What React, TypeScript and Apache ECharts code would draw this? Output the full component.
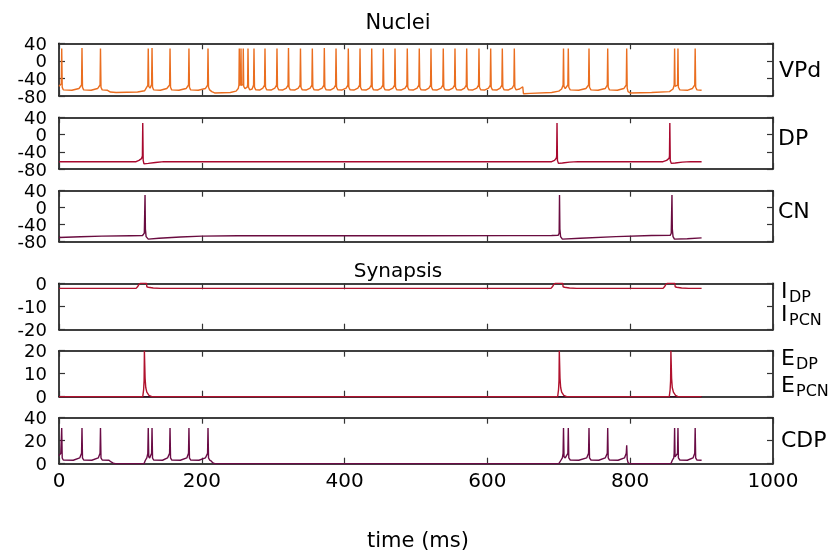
import React, { useEffect, useRef } from 'react';
import * as echarts from 'echarts';

// ---- data ----
const xTickLabels = ['0', '200', '400', '600', '800', '1000'];
const nucleiTickValues = [40, 0, -40, -80];

const vpd: number[][] = [
  [0, -58], [3.2, -52], [3.8, 28], [4.5, -60], [6, -66], [18, -67], [28, -63], [31.6, -55], [32.2, 29], [32.9, -60], [34.5, -66],
  [45, -67], [54, -63], [57.5, -55], [58.1, 28], [58.8, -60], [60.5, -66], [68, -67], [72, -71], [80, -72], [110, -71], [120, -68],
  [124.4, -56], [125, 28], [125.7, -58], [127.5, -62], [129.7, -54], [130.3, 29], [131, -60], [132.5, -66], [142, -67], [151, -63],
  [154.9, -55], [155.5, 28], [156.2, -60], [157.8, -66], [168, -67], [178, -63], [181.4, -55], [182, 28], [182.7, -60], [184.3, -66],
  [195, -67], [205, -63], [208.1, -55], [208.7, 28], [209.4, -60], [211, -66], [214, -70], [218, -73], [240, -72], [248, -69],
  [251, -63], [252, -55], [252.5, 28], [253, -56], [254.4, -54], [254.9, 28], [255.4, -56], [257.6, -54], [258.1, 28], [258.7, -58],
  [260.5, -63], [263.5, -60], [264.2, -55], [264.7, 28], [265.4, -60], [267.2, -66], [270.5, -64], [272.5, -55], [273.1, 28],
  [273.8, -60], [275.6, -66], [281, -66.5], [285.5, -62],
  [287.9, -55], [288.5, 28], [289.2, -60], [291, -66], [297, -66.5], [302.3, -62],
  [304.7, -55], [305.3, 28], [306, -60], [307.8, -66], [313, -66.5], [318.4, -62],
  [320.8, -55], [321.4, 29], [322.1, -60], [323.9, -66], [330, -66.5], [335.2, -62],
  [337.6, -55], [338.2, 28], [338.9, -60], [340.7, -66], [346, -66.5], [351.8, -62],
  [354.2, -55], [354.8, 28], [355.5, -60], [357.3, -66], [363, -66.5], [368.6, -62],
  [371, -55], [371.6, 29], [372.3, -60], [374.1, -66], [380, -66.5], [385, -62],
  [387.4, -55], [388, 28], [388.7, -60], [390.5, -66], [396, -66.5], [402.2, -62],
  [404.6, -55], [405.2, 28], [405.9, -60], [407.7, -66], [413, -66.5], [418.6, -62],
  [421, -55], [421.6, 28], [422.3, -60], [424.1, -66], [430, -66.5], [435, -62],
  [437.4, -55], [438, 28], [438.7, -60], [440.5, -66], [446, -66.5], [451.2, -62],
  [453.6, -55], [454.2, 28], [454.9, -60], [456.7, -66], [462, -66.5], [467.6, -62],
  [470, -55], [470.6, 28], [471.3, -60], [473.1, -66], [479, -66.5], [484.8, -62],
  [487.2, -55], [487.8, 28], [488.5, -60], [490.3, -66], [496, -66.5], [501.6, -62],
  [504, -55], [504.6, 28], [505.3, -60], [507.1, -66], [513, -66.5], [518, -62],
  [520.4, -55], [521, 28], [521.7, -60], [523.5, -66], [529, -66.5], [535.2, -62],
  [537.6, -55], [538.2, 28], [538.9, -60], [540.7, -66], [546, -66.5], [551.6, -62],
  [554, -55], [554.6, 28], [555.3, -60], [557.1, -66], [563, -66.5], [568, -62],
  [570.4, -55], [571, 28], [571.7, -60], [573.5, -66], [579, -66.5], [585.2, -62],
  [587.6, -55], [588.2, 28], [588.9, -60], [590.7, -66], [596, -66.5], [601.6, -62],
  [604, -55], [604.6, 28], [605.3, -60], [607.1, -66], [613, -66.5], [617.9, -62],
  [620.3, -55], [620.9, 28], [621.6, -60], [623.4, -66], [629, -66.5], [634.7, -62],
  [637.1, -55], [637.7, 28], [638.4, -60], [640.2, -66], [645, -64], [649.5, -59], [650.5, -75], [660, -74], [690, -72],
  [700, -69], [704, -64], [706, -55], [706.6, 28], [707.2, -58], [709, -63], [712.7, -55], [713.3, 28], [714, -60], [716, -66],
  [728, -67], [738, -63], [741.7, -55], [742.3, 28], [743, -60], [745, -66], [755, -67], [765, -63], [767.9, -55], [768.5, 28],
  [769.2, -60], [771, -66], [782, -67], [791, -63], [794.5, -55], [795.1, 28], [795.8, -62], [797, -70], [800, -73], [830, -72],
  [855, -70], [860, -64], [861.6, -55], [862.2, 28], [862.8, -58], [866.3, -55], [866.9, 28], [867.5, -60], [869.5, -66],
  [880, -67], [887, -63], [890.4, -55], [891, 28], [891.7, -60], [893.5, -66], [900, -67],
];

const dp: number[][] = [
  [0, -63], [108, -63], [112, -60], [115.5, -56], [116.8, -50], [117.3, 27], [117.9, -60], [119, -68], [125, -67], [135, -65],
  [147, -63], [690, -63], [694, -60], [696.5, -55], [697, -50], [697.5, 27], [698.1, -60], [699.5, -67], [705, -66], [715, -64],
  [727, -63], [846, -63], [851, -60], [854.5, -55], [855, -50], [855.5, 27], [856.1, -60], [857.5, -67], [863, -66], [873, -64],
  [885, -63], [900, -63],
];

const cn: number[][] = [
  [0, -70], [30, -68.5], [60, -67], [100, -66], [117, -65.5], [119.5, -60], [120.5, 30], [121, -50], [122, -68], [125, -74],
  [140, -72], [170, -69], [200, -67], [250, -66], [350, -66], [500, -66], [690, -65.5], [699, -65], [700.5, -60], [701, 30],
  [701.5, -50], [702.5, -68], [705, -74], [730, -72], [780, -68], [830, -65.5], [856, -65], [857.5, -60], [858.5, 30],
  [859, -50], [860, -68], [862, -74], [880, -73], [900, -71],
];

const iDP: number[][] = [
  [0, -2.2], [108, -2.2], [110, -1.5], [112, -0.5], [114, 0], [122.5, 0], [123, -1.5], [125, -1.7], [132, -2], [142, -2.2],
  [689, -2.2], [691, -1.5], [693, -0.5], [695, 0], [705.5, 0], [706, -1.5], [708, -1.7], [715, -2], [725, -2.2],
  [846, -2.2], [848, -1.5], [850, -0.5], [852, 0], [862.5, 0], [863, -1.5], [865, -1.7], [872, -2], [882, -2.2], [900, -2.2],
];

const eDP: number[][] = [
  [0, 0], [117.3, 0], [118.5, 3], [119.2, 7], [119.6, 20], [120.1, 20], [120.6, 8], [121.5, 4], [123, 2], [126, 0.6], [130, 0],
  [698.4, 0], [699.6, 3], [700.3, 7], [700.7, 20], [701.2, 20], [701.7, 8], [702.6, 4], [704, 2], [707, 0.6], [711, 0],
  [854.7, 0], [855.9, 3], [856.6, 7], [857, 20], [857.5, 20], [858, 8], [858.9, 4], [860.5, 2], [863.5, 0.6], [867, 0], [900, 0],
];

const ePCN: number[][] = [[0, 0], [900, 0]];

const cdp: number[][] = [
  [0, 7], [2.5, 9], [3.8, 31], [4.5, 5], [6, 3.2], [20, 3], [29, 5], [31.6, 9], [32.2, 31], [32.9, 5], [34.5, 3.2], [46, 3],
  [55, 5], [57.5, 9], [58.1, 31], [58.8, 5], [60.5, 3.2], [70, 3], [73, 1.5], [76, 0.5], [79, 0], [119, 0], [121, 3], [123, 5],
  [124.4, 9], [125, 31], [125.7, 6], [127, 5], [129.7, 9], [130.3, 31], [131, 5], [132.5, 3.2], [145, 3], [152, 5], [154.9, 9],
  [155.5, 31], [156.2, 5], [158, 3.2], [170, 3], [179, 5], [181.4, 9], [182, 31], [182.7, 5], [184.3, 3.2], [196, 3], [205, 5],
  [208.1, 9], [208.7, 31], [209.4, 5], [211, 3.2], [213, 2.5], [215, 1], [218, 0], [700, 0], [703, 3], [705, 5], [706, 9],
  [706.6, 31], [707.3, 6], [709, 5], [712.7, 9], [713.3, 31], [714, 5], [716, 3.2], [728, 3], [739, 5], [741.7, 9], [742.3, 31],
  [743, 5], [745, 3.2], [756, 3], [765, 5], [767.9, 9], [768.5, 31], [769.2, 5], [771, 3.2], [783, 3], [792, 5], [794.5, 9],
  [795.1, 16], [795.8, 4], [797, 1], [799, 0], [857, 0], [859, 3], [861, 5], [861.6, 9], [862.2, 31], [862.8, 6], [866.3, 9],
  [866.9, 31], [867.5, 5], [869.5, 3.2], [880, 3], [888, 5], [890.4, 9], [891, 31], [891.7, 5], [893.5, 3.2], [900, 3],
];

const panelRanges = [
  { min: -80, max: 40, interval: 40 },
  { min: -80, max: 40, interval: 40 },
  { min: -80, max: 40, interval: 40 },
  { min: -20, max: 0, interval: 10 },
  { min: 0, max: 20, interval: 10 },
  { min: 0, max: 40, interval: 20 },
];

// ---- layout ----
const panelBoxes = [
  { top: 43.3, height: 52.7 },
  { top: 117.3, height: 51.7 },
  { top: 190.7, height: 51 },
  { top: 283.3, height: 46.4 },
  { top: 350.7, height: 46 },
  { top: 417.7, height: 46 },
];
const LEFT = 59;
const WIDTH = 714;
const FONT = 'DejaVu Sans';

export default function App() {
  const ref = useRef<HTMLDivElement>(null);
  useEffect(() => {
    const chart = echarts.init(ref.current!, null, { renderer: 'svg' });
    const tick = { show: true, inside: true, interval: 0, length: 6, lineStyle: { color: '#333', width: 1.2 } };
    const axisLine = { show: true, onZero: false, lineStyle: { color: '#000', width: 1.5 } };
    const grid: any[] = [];
    const xAxis: any[] = [];
    const yAxis: any[] = [];
    panelBoxes.forEach((b, i) => {
      grid.push({ left: LEFT, width: WIDTH, top: b.top, height: b.height, containLabel: false });
      const xb = {
        type: 'value', gridIndex: i, min: 0, max: 1000, interval: 200,
        axisLine, axisTick: tick, splitLine: { show: false },
      };
      xAxis.push({
        ...xb, position: 'bottom',
        axisLabel: {
          show: i === 5, interval: 0, fontSize: 20, color: '#000', fontFamily: FONT, margin: 6,
          showMinLabel: true, showMaxLabel: true, hideOverlap: false,
          formatter: (v: number) => xTickLabels[Math.round(v / 200)] ?? '',
        },
      });
      xAxis.push({ ...xb, position: 'top', axisLabel: { show: false } });
      const r = panelRanges[i];
      const yb = {
        type: 'value', gridIndex: i, min: r.min, max: r.max, interval: r.interval,
        axisLine, axisTick: tick, splitLine: { show: false },
      };
      yAxis.push({
        ...yb, position: 'left',
        axisLabel: {
          show: i >= 3, interval: 0, fontSize: 18, color: '#000', fontFamily: FONT, margin: 12,
          showMinLabel: true, showMaxLabel: true, hideOverlap: false,
        },
      });
      yAxis.push({ ...yb, position: 'right', axisLabel: { show: false } });
    });
    const mk = (data: number[][], panel: number, color: string, width = 1.4) => ({
      type: 'line', data, xAxisIndex: panel * 2, yAxisIndex: panel * 2, showSymbol: false, symbol: 'none',
      clip: true, lineStyle: { color, width }, itemStyle: { color }, silent: true,
    });
    const txt = (text: string, x: number, y: number, size: number, align = 'left') => ({
      type: 'text', x, y, style: { text, fontSize: size, fontFamily: FONT, fill: '#000', textAlign: align, textVerticalAlign: 'middle' },
    });
    const graphic: any[] = [
      txt('Nuclei', 398, 22, 21, 'center'),
      txt('Synapsis', 398, 270, 20, 'center'),
      txt('time (ms)', 418, 540, 21, 'center'),
      txt('VPd', 779, 69, 22),
      txt('DP', 778, 137.5, 22),
      txt('CN', 778, 210, 22),
      txt('CDP', 781, 439, 22),
      txt('I', 781, 290, 22), txt('DP', 789, 296, 16),
      txt('I', 781, 313, 22), txt('PCN', 789, 319, 16),
      txt('E', 781, 357, 22), txt('DP', 796, 363, 16),
      txt('E', 781, 384, 22), txt('PCN', 796, 390, 16),
    ];
    chart.setOption({
      animation: false,
      textStyle: { fontFamily: FONT },
      grid, xAxis, yAxis,
      series: [
        mk(vpd, 0, '#ea6e20'),
        mk(dp, 1, '#a8082e'),
        mk(cn, 2, '#6a0c40'),
        mk(iDP, 3, '#b0122e'),
        mk(ePCN, 4, '#3a0a22'),
        mk(eDP, 4, '#b0122e'),
        mk(cdp, 5, '#6a0c46'),
      ],
      graphic,
    });
    // tick labels of the three Nuclei panels, placed through the y axes' own scales
    const extra: any[] = [];
    for (let p = 0; p < 3; p++) {
      nucleiTickValues.forEach((v) => {
        const py = chart.convertToPixel({ yAxisIndex: p * 2 }, v) as number;
        extra.push(txt(String(v), LEFT - 12, py, 18, 'right'));
      });
    }
    chart.setOption({ graphic: [...graphic, ...extra] });
    return () => chart.dispose();
  }, []);
  return <div ref={ref} style={{ position: 'fixed', left: 0, top: 0, width: 828, height: 551 }} />;
}
